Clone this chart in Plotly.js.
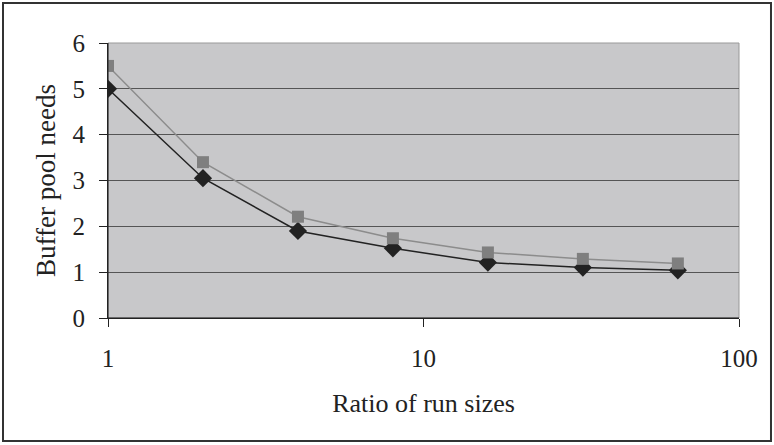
<!DOCTYPE html>
<html>
<head>
<meta charset="utf-8">
<script src="https://cdn.plot.ly/plotly-3.0.1.min.js"></script>
<style>html,body{margin:0;padding:0;background:#fff;}#chart{width:774px;height:445px;}</style>
</head>
<body>
<div id="chart"></div>
<script>
var ratios = [1, 2, 4, 8, 16, 32, 64];
var seriesA = [5.0, 3.05, 1.9, 1.52, 1.21, 1.1, 1.04];
var seriesB = [5.5, 3.4, 2.21, 1.74, 1.43, 1.29, 1.19];
var xTicks = [1, 10, 100];
var xTickText = ['1', '10', '100'];
var yTicks = [0, 1, 2, 3, 4, 5, 6];

var tickFont = {family: '"Liberation Serif", "Times New Roman", serif', size: 25, color: '#222'};
var titleFont = {family: '"Liberation Serif", "Times New Roman", serif', size: 26, color: '#222'};
var yTitleFont = {family: '"Liberation Serif", "Times New Roman", serif', size: 27, color: '#222'};

var traces = [
  {x: ratios, y: seriesA, type: 'scatter', mode: 'lines+markers',
   line: {color: '#222222', width: 1.5},
   marker: {symbol: 'diamond', size: 14, color: '#222222'}},
  {x: ratios, y: seriesB, type: 'scatter', mode: 'lines+markers',
   line: {color: '#8c8c8c', width: 1.5},
   marker: {symbol: 'square', size: 12, color: '#7f7f7f'}}
];

var layout = {
  width: 774, height: 445,
  margin: {l: 108, r: 35, t: 43, b: 127},
  paper_bgcolor: '#ffffff',
  plot_bgcolor: '#c8c8ca',
  showlegend: false,
  font: tickFont,
  xaxis: {
    type: 'log', range: [0, 2],
    tickvals: xTicks, ticktext: xTickText,
    ticks: 'outside', ticklen: 8, tickcolor: '#222', tickwidth: 1,
    showgrid: false, zeroline: false,
    showline: true, linecolor: '#222', linewidth: 1,
    ticklabelstandoff: 10,
    tickfont: tickFont,
    title: {text: 'Ratio of run sizes', font: titleFont, standoff: 22}
  },
  yaxis: {
    range: [0, 6], tickvals: yTicks,
    ticks: 'outside', ticklen: 8, tickcolor: '#222', tickwidth: 1,
    showgrid: true, gridcolor: '#555555', gridwidth: 1,
    zeroline: false,
    showline: true, linecolor: '#222', linewidth: 1,
    ticklabelstandoff: 9,
    tickfont: tickFont,
    title: {text: 'Buffer pool needs', font: yTitleFont, standoff: 9}
  },
  shapes: [
    {type: 'rect', xref: 'paper', yref: 'paper', x0: 0, x1: 1, y0: 0, y1: 1,
     line: {color: '#999999', width: 1}, layer: 'below'},
    {type: 'line', xref: 'paper', yref: 'paper', x0: 0, x1: 0, y0: 0, y1: 1,
     line: {color: '#222', width: 1}},
    {type: 'line', xref: 'paper', yref: 'paper', x0: 0, x1: 1, y0: 0, y1: 0,
     line: {color: '#222', width: 1}},
    {type: 'rect', xref: 'paper', yref: 'paper',
     x0: -0.1664, x1: 1.0507, y0: -0.447, y1: 1.1455,
     line: {color: '#333', width: 2}}
  ]
};

Plotly.newPlot('chart', traces, layout, {displayModeBar: false, staticPlot: true});
</script>
</body>
</html>
